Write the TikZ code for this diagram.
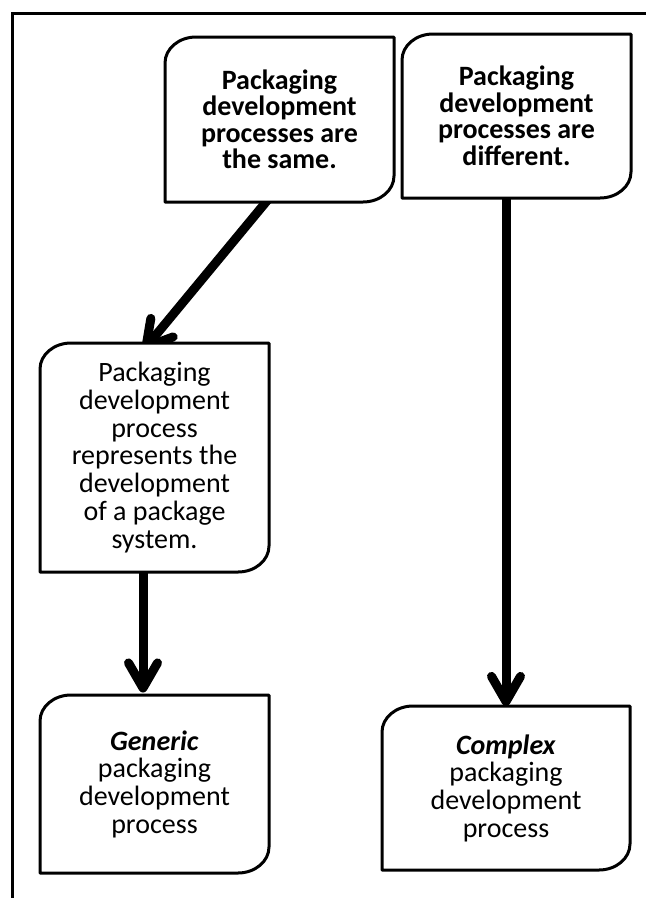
\documentclass[tikz,border=0pt]{standalone}
\usepackage{fontspec}
\setmainfont{Carlito}
\usetikzlibrary{calc}
\pgfdeclarelayer{bg}
\pgfdeclarelayer{mid}
\pgfsetlayers{bg,mid,main}
\tikzset{
  boxnode/.style={draw=none, inner sep=0pt, outer sep=0pt, align=center, text=black},
  boldtext/.style={font=\fontsize{28}{26.5}\selectfont\bfseries},
  regtext/.style={font=\fontsize{28}{27.7}\selectfont},
  boxline/.style={line width=3pt, line join=round, fill=white},
  shaft/.style={line width=9pt},
  barb/.style={line width=9pt, line cap=round, line join=round},
  frameline/.style={line width=3pt}
}
\newcommand\boxoutline[1]{%
  \draw[boxline] (#1.south west) -- ([yshift=-26pt]#1.north west)
    arc[start angle=180, end angle=90, x radius=31pt, y radius=26pt]
    -- (#1.north east) -- ([yshift=26pt]#1.south east)
    arc[start angle=0, end angle=-90, x radius=31pt, y radius=26pt] -- cycle;}
\newcommand\thickarrow[2]{%
  \draw[shaft] ($(#1)!-10pt!(#2)$) -- ($(#2)!4pt!(#1)$);
  \draw[barb] ($(#2)!29pt!30:(#1)$) -- (#2) -- ($(#2)!29pt!-30:(#1)$);}
\begin{document}
\begin{tikzpicture}[x=1pt,y=1pt]
\useasboundingbox (0,0) rectangle (646,-898);
\coordinate (frTR) at (646,-13);
\coordinate (frTL) at (12.5,-13);
\coordinate (frBL) at (12.5,-898);
\draw[frameline] (frTR) -- (frTL) -- (frBL);

\node[boxnode, boldtext, minimum width=229pt, minimum height=165pt] (same) at (279.5,-119.5)
  {Packaging\\development\\processes are\\the same.};
\node[boxnode, boldtext, minimum width=229pt, minimum height=164pt] (diff) at (516.5,-116)
  {Packaging\\development\\processes are\\different.};
\node[boxnode, regtext, minimum width=229pt, minimum height=229pt] (rep) at (154.5,-457.5)
  {Packaging\\development\\process\\represents the\\development\\of a package\\system.};
\node[boxnode, regtext, minimum width=229pt, minimum height=178pt] (gen) at (154.5,-784)
  {\textbf{\textit{Generic}}\\packaging\\development\\process};
\node[boxnode, regtext, minimum width=248pt, minimum height=164pt] (comp) at (506,-788)
  {\textbf{\textit{Complex}}\\packaging\\development\\process};

\begin{pgfonlayer}{mid}
  \boxoutline{same}
  \boxoutline{diff}
  \boxoutline{rep}
  \boxoutline{gen}
  \boxoutline{comp}
\end{pgfonlayer}

\coordinate (a1s) at ($(same.south)+(-13.5,0)$);
\coordinate (a1t) at ($(rep.north west)+(106,-4)$);
\coordinate (a2s) at ($(rep.south)+(-11.5,0)$);
\coordinate (a2t) at ($(gen.north)+(-11.5,7)$);
\coordinate (a3s) at ($(diff.south)+(-10.5,0)$);
\coordinate (a3t) at ($(comp.north)+(0,4.5)$);
\begin{pgfonlayer}{bg}
  \thickarrow{a1s}{a1t}
  \thickarrow{a2s}{a2t}
  \thickarrow{a3s}{a3t}
\end{pgfonlayer}
\end{tikzpicture}
\end{document}
